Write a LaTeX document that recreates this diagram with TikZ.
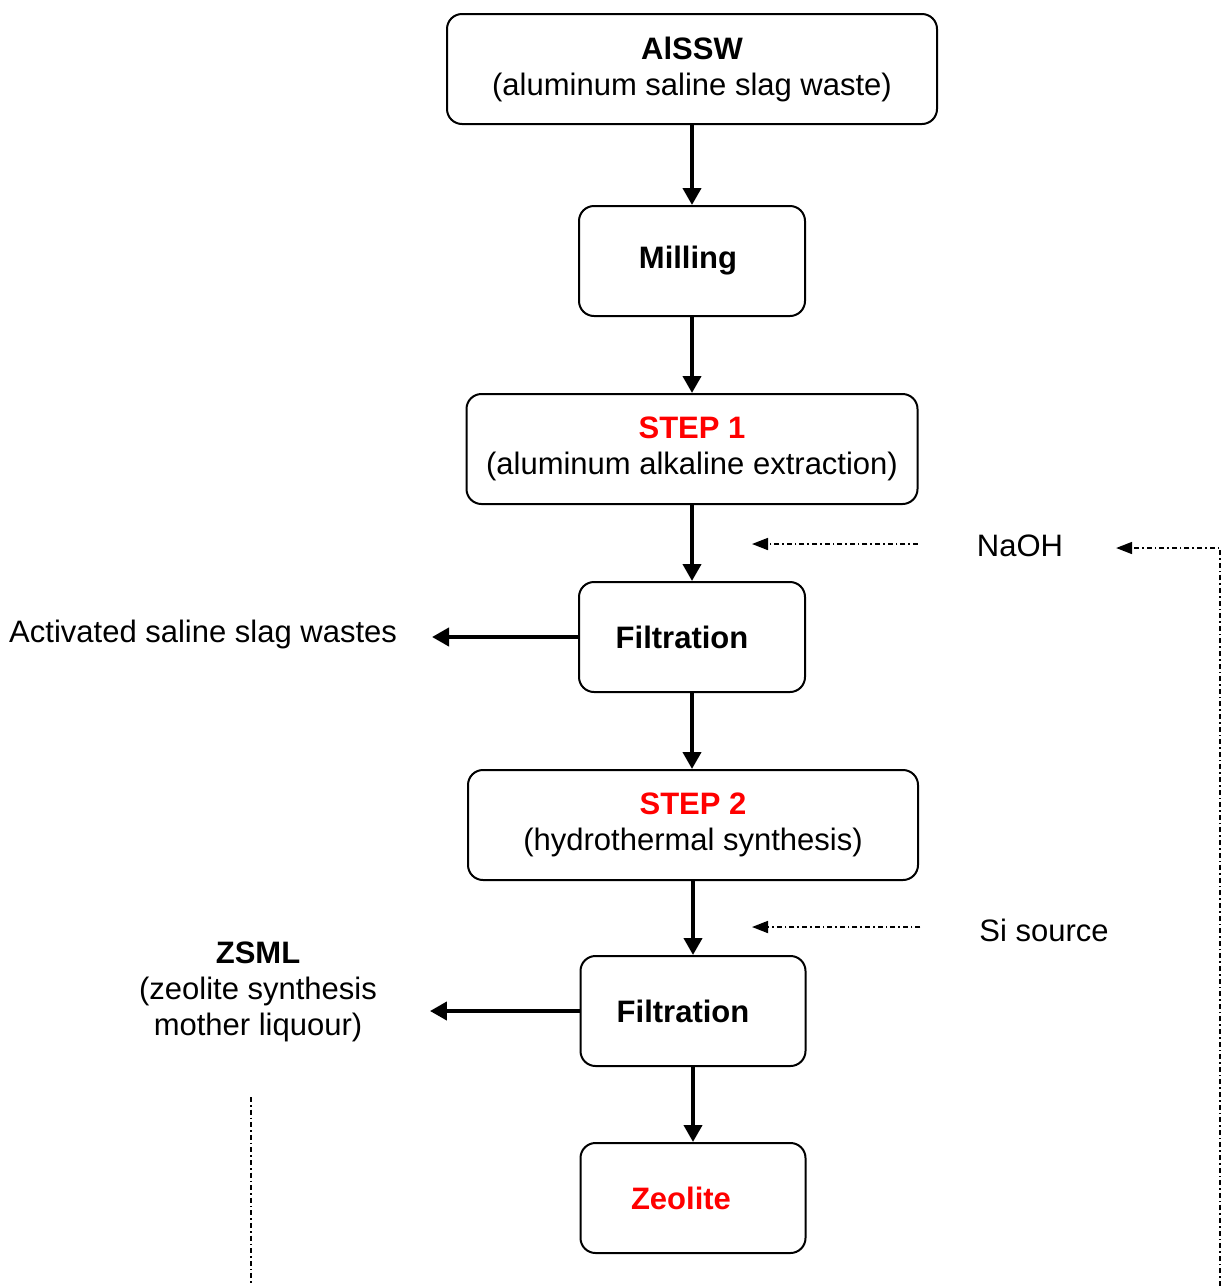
\documentclass[tikz,border=0pt]{standalone}
\usepackage{fontspec}
\setmainfont{Liberation Sans}
\usetikzlibrary{arrows.meta, positioning}
\definecolor{step_red}{rgb}{1, 0, 0}

\begin{document}
\begin{tikzpicture}[x=0.5pt, y=-0.5pt,
    every node/.style={font=\fontsize{15.5}{18}\selectfont, align=center},
    stage/.style={draw, line width=1pt, rounded corners=7.5pt, minimum height=55pt, inner sep=0pt},
    flow/.style={line width=2pt, -{Triangle[length=8.5pt, width=9pt]}},
    feed/.style={line width=0.85pt, dash pattern=on 2.5pt off 1.5pt on 0.8pt off 1.5pt},
    feedarrow/.style={feed, -{Triangle[length=8pt, width=6pt]}}]
    \useasboundingbox (0,0) rectangle (1224,1286);
    % main process line
    \node[stage, minimum width=245pt] (aissw) at (692,69) {\textbf{AlSSW}\\(aluminum saline slag waste)};
    \node[stage, minimum width=113pt] (mill) at (692,261) {\textbf{Milling}\hspace*{4pt}};
    \node[stage, minimum width=225.5pt] (step1) at (692,449) {\textbf{\color{step_red}STEP 1}\\(aluminum alkaline extraction)};
    \node[stage, minimum width=113pt] (filt1) at (692,637) {\textbf{Filtration}\hspace*{10pt}};
    \node[stage, minimum width=225pt] (step2) at (693,825) {\textbf{\color{step_red}STEP 2}\\(hydrothermal synthesis)};
    \node[stage, minimum width=112.5pt] (filt2) at (693,1011) {\textbf{Filtration}\hspace*{10pt}};
    \node[stage, minimum width=112.5pt] (zeo) at (693,1198) {\textbf{\color{step_red}Zeolite}\hspace*{12pt}};
    \draw[flow] (aissw.south) -- (aissw.south |- mill.north);
    \draw[flow] (mill.south) -- (mill.south |- step1.north);
    \draw[flow] (step1.south) -- (step1.south |- filt1.north);
    \draw[flow] (filt1.south) -- (filt1.south |- step2.north);
    \draw[flow] (step2.south) -- (step2.south |- filt2.north);
    \draw[flow] (filt2.south) -- (filt2.south |- zeo.north);
    % side outputs
    \node[anchor=east] (waste) at (404,634) {Activated saline slag wastes};
    \node (zsml) at (258,992) {\textbf{ZSML}\\(zeolite synthesis\\mother liquour)};
    \draw[flow] (filt1.west) -- ([xshift=14pt]waste.east |- filt1.west);
    \draw[flow] (filt2.west) -- ([xshift=23pt]zsml.east |- filt2.west);
    % reagents
    \node (naoh) at (1020,546) {NaOH};
    \node (si) at (1044,930) {Si source};
    \coordinate (naohin) at (752,544);
    \coordinate (siin) at (752,927);
    \draw[feedarrow] ([xshift=-26pt, yshift=1pt]naoh.west) -- (naohin);
    \draw[feedarrow] ([xshift=-26pt, yshift=1.5pt]si.west) -- (siin);
    % recycle of mother liquour
    \coordinate (loopl) at (251,1286);
    \coordinate (loopr) at (1220,1286);
    \draw[feed] (loopl |- 0,1097) -- (loopl);
    \draw[feedarrow] (loopr) |- ([xshift=23pt]naoh.east |- 0,548);
\end{tikzpicture}
\end{document}
